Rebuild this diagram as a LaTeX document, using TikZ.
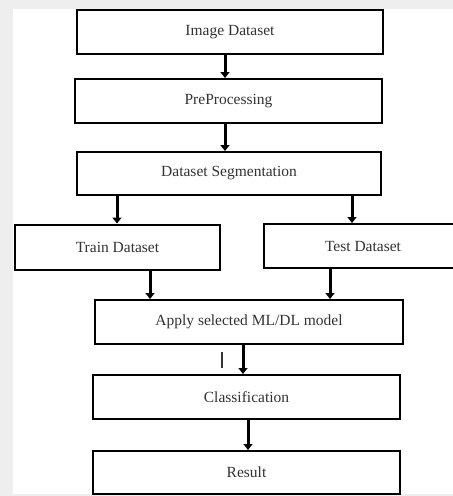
\documentclass[tikz,border=0pt]{standalone}
\usepackage{fontspec}
\setmainfont{Liberation Serif}
\usetikzlibrary{arrows.meta}
\definecolor{bggray}{HTML}{EEEEEE}
\definecolor{txtgray}{HTML}{333333}
\begin{document}
\begin{tikzpicture}[x=1pt,y=1pt,
  box/.style={draw=black,line width=2pt,fill=white,rectangle,inner sep=0pt,
    text=txtgray,font=\fontsize{15.5}{18}\selectfont},
  arr/.style={line width=3pt,-{Triangle[width=9pt,length=6pt]}}]
\useasboundingbox (0,0) rectangle (453,-496);
\clip (0,0) rectangle (453,-496);
\fill[bggray] (0,0) rectangle (453,-496);
\fill[white] (13,-9) rectangle (453,-494);
\node[box,minimum width=306pt,minimum height=44pt] (img) at (230,-32) {Image Dataset};
\node[box,minimum width=307pt,minimum height=44pt] (pre) at (228.5,-101) {PreProcessing};
\node[box,minimum width=304pt,minimum height=43pt] (seg) at (229,-173.5) {Dataset Segmentation};
\node[box,minimum width=205pt,minimum height=45pt] (train) at (117.5,-247) {Train Dataset};
\node[box,minimum width=198pt,minimum height=44pt] (test) at (363,-246) {Test Dataset};
\node[box,minimum width=308pt,minimum height=44pt] (model) at (249,-322) {Apply selected ML/DL model};
\node[box,minimum width=307pt,minimum height=44pt] (cls) at (246.5,-397) {Classification};
\node[box,minimum width=307pt,minimum height=43pt] (res) at (246.5,-472.5) {Result};
\draw[arr] ([xshift=-5pt]img.south) -- ([xshift=-3.5pt]pre.north);
\draw[arr] ([xshift=-3.5pt]pre.south) -- ([xshift=-4pt]seg.north);
\draw[arr] ([xshift=-112pt]seg.south) -- ([xshift=-0.5pt]train.north);
\draw[arr] ([xshift=123pt]seg.south) -- ([xshift=-11pt]test.north);
\draw[arr] ([xshift=32.5pt]train.south) -- ([xshift=-99pt]model.north);
\draw[arr] ([xshift=-33pt]test.south) -- ([xshift=81pt]model.north);
\draw[arr] ([xshift=-6pt]model.south) -- ([xshift=-3.5pt]cls.north);
\draw[arr] ([xshift=1.5pt]cls.south) -- ([xshift=1.5pt]res.north);
\coordinate (tickA) at (222,-352);
\coordinate (tickB) at (222,-368);
\draw[line width=1.5pt,black!80] (tickA) -- (tickB);
\end{tikzpicture}
\end{document}
